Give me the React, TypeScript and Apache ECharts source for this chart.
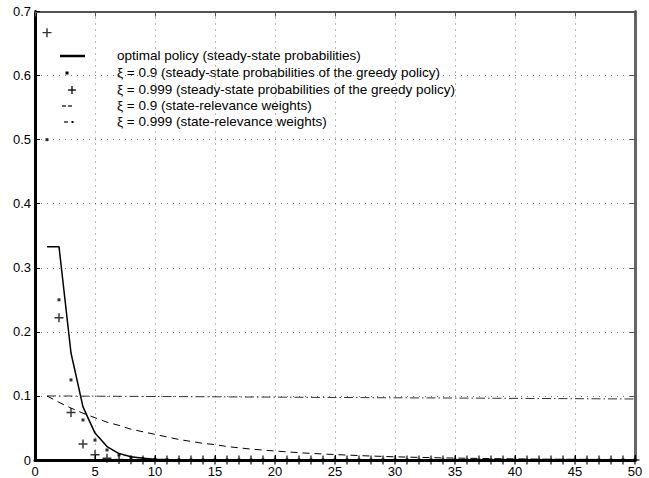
import React, { useEffect, useRef } from "react";
import * as echarts from "echarts";

const states = [
  1, 2, 3, 4, 5, 6, 7, 8, 9, 10, 11, 12, 13, 14, 15, 16, 17, 18, 19, 20, 21, 22, 23, 24, 25,
  26, 27, 28, 29, 30, 31, 32, 33, 34, 35, 36, 37, 38, 39, 40, 41, 42, 43, 44, 45, 46, 47, 48, 49, 50,
];

const optimalPolicy = [
  0.333, 0.333, 0.167, 0.083, 0.042, 0.021, 0.010, 0.005, 0.0026, 0.0013, 0.0007, 0.0003, 0.0002, 0.0001, 0,
  0, 0, 0, 0, 0, 0, 0, 0, 0, 0, 0, 0, 0, 0, 0, 0, 0, 0, 0, 0, 0, 0, 0, 0, 0, 0, 0, 0, 0, 0, 0, 0, 0, 0, 0,
];

const greedy09 = [
  0.5, 0.25, 0.125, 0.0625, 0.031, 0.0156, 0.0078, 0.0039, 0.002, 0.001, 0.0005, 0.0002, 0.0001, 0, 0,
  0, 0, 0, 0, 0, 0, 0, 0, 0, 0, 0, 0, 0, 0, 0, 0, 0, 0, 0, 0, 0, 0, 0, 0, 0, 0, 0, 0, 0, 0, 0, 0, 0, 0, 0,
];

const greedy0999 = [
  0.667, 0.222, 0.074, 0.025, 0.0082, 0.0027, 0.0009, 0.0003, 0.0001, 0, 0, 0, 0, 0, 0,
  0, 0, 0, 0, 0, 0, 0, 0, 0, 0, 0, 0, 0, 0, 0, 0, 0, 0, 0, 0, 0, 0, 0, 0, 0, 0, 0, 0, 0, 0, 0, 0, 0, 0, 0,
];

const weights09 = [
  0.1, 0.09, 0.081, 0.073, 0.066, 0.059, 0.054, 0.048, 0.044, 0.04, 0.036, 0.032, 0.029, 0.026, 0.024,
  0.021, 0.019, 0.017, 0.0155, 0.014, 0.0127, 0.0114, 0.0103, 0.0094, 0.0085, 0.0077, 0.0069, 0.0062,
  0.0056, 0.005, 0.0045, 0.0041, 0.0037, 0.0033, 0.003, 0.0027, 0.0024, 0.0022, 0.002, 0.0018, 0.0016,
  0.0014, 0.0013, 0.0012, 0.0011, 0.001, 0.0009, 0.0008, 0.0007, 0.0006,
];

const weights0999 = [
  0.1, 0.0999, 0.0998, 0.0997, 0.0996, 0.0995, 0.0994, 0.0993, 0.0992, 0.0991, 0.099, 0.0989, 0.0988,
  0.0987, 0.0986, 0.0985, 0.0984, 0.0983, 0.0982, 0.0981, 0.098, 0.0979, 0.0978, 0.0977, 0.0976, 0.0975,
  0.0974, 0.0973, 0.0972, 0.0971, 0.097, 0.0969, 0.0969, 0.0968, 0.0967, 0.0966, 0.0965, 0.0964, 0.0963,
  0.0962, 0.0961, 0.096, 0.0959, 0.0958, 0.0957, 0.0956, 0.0955, 0.0954, 0.0953, 0.0952,
];

const legendLabels = [
  "optimal policy (steady-state probabilities)",
  "\u03be = 0.9 (steady-state probabilities of the greedy policy)",
  "\u03be = 0.999 (steady-state probabilities of the greedy policy)",
  "\u03be = 0.9 (state-relevance weights)",
  "\u03be = 0.999 (state-relevance weights)",
];

const FONT = "'Liberation Sans', Arial, Helvetica, sans-serif";
const PLUS = "path://M4.2,0H5.8V4.2H10V5.8H5.8V10H4.2V5.8H0V4.2H4.2Z";

export default function App() {
  const ref = useRef<HTMLDivElement>(null);
  useEffect(() => {
    const chart = echarts.init(ref.current!, null, { renderer: "svg" });
    const pair = (ys: number[]) => states.map((x, i) => [x, ys[i]]);
    const rowY = [56, 73, 90, 106, 122];
    const legendGraphics: any[] = [];
    legendLabels.forEach((t, i) => {
      legendGraphics.push({
        type: "text",
        left: 117,
        top: rowY[i] - 8,
        style: { text: t, fill: "#000", font: `13.5px ${FONT}` },
      });
    });
    legendGraphics.push(
      { type: "line", shape: { x1: 60, y1: rowY[0], x2: 85, y2: rowY[0] }, style: { stroke: "#000", lineWidth: 2.5 } },
      { type: "rect", shape: { x: 65.5, y: rowY[1] - 1.5, width: 3, height: 3 }, style: { fill: "#000" } },
      { type: "line", shape: { x1: 68, y1: rowY[2], x2: 76, y2: rowY[2] }, style: { stroke: "#000", lineWidth: 1.3 } },
      { type: "line", shape: { x1: 72, y1: rowY[2] - 4, x2: 72, y2: rowY[2] + 4 }, style: { stroke: "#000", lineWidth: 1.3 } },
      { type: "line", shape: { x1: 62, y1: rowY[3], x2: 66, y2: rowY[3] }, style: { stroke: "#000", lineWidth: 1.2 } },
      { type: "line", shape: { x1: 68, y1: rowY[3], x2: 72, y2: rowY[3] }, style: { stroke: "#000", lineWidth: 1.2 } },
      { type: "line", shape: { x1: 64, y1: rowY[4], x2: 68, y2: rowY[4] }, style: { stroke: "#000", lineWidth: 1.2 } },
      { type: "rect", shape: { x: 71.5, y: rowY[4] - 1, width: 2, height: 2 }, style: { fill: "#000" } }
    );

    const grid = { left: 35, right: 14, top: 11.5, bottom: 17.5 };
    const split = { show: true, lineStyle: { color: "#777", width: 1, type: [1, 5] } };
    chart.setOption({
      animation: false,
      backgroundColor: "#fff",
      grid: { ...grid, containLabel: false },
      xAxis: [
        {
          type: "value",
          min: 0,
          max: 50,
          interval: 5,
          position: "bottom",
          axisLine: { show: true, onZero: false, lineStyle: { color: "#000", width: 3 } },
          axisTick: { show: true, inside: true, length: 5, lineStyle: { color: "#000" } },
          axisLabel: { color: "#000", fontSize: 13, fontFamily: FONT, margin: 5 },
          splitLine: split,
        },
        {
          type: "value",
          min: 0,
          max: 50,
          interval: 5,
          position: "top",
          axisLine: { show: true, onZero: false, lineStyle: { color: "#555", width: 2 } },
          axisTick: { show: true, inside: true, length: 5, lineStyle: { color: "#555" } },
          axisLabel: { show: false },
          splitLine: { show: false },
        },
      ],
      yAxis: [
        {
          type: "value",
          min: 0,
          max: 0.7,
          interval: 0.1,
          position: "left",
          axisLine: { show: true, onZero: false, lineStyle: { color: "#000", width: 3 } },
          axisTick: { show: true, inside: true, length: 5, lineStyle: { color: "#000" } },
          axisLabel: { color: "#000", fontSize: 13, fontFamily: FONT, margin: 4 },
          splitLine: split,
        },
        {
          type: "value",
          min: 0,
          max: 0.7,
          interval: 0.1,
          position: "right",
          axisLine: { show: true, onZero: false, lineStyle: { color: "#666", width: 3 } },
          axisTick: { show: true, inside: true, length: 5, lineStyle: { color: "#555" } },
          axisLabel: { show: false },
          splitLine: { show: false },
        },
      ],
      series: [
        {
          name: "weights0999",
          type: "line",
          data: pair(weights0999),
          showSymbol: false,
          symbol: "none",
          lineStyle: { color: "#333", width: 1, type: [9, 3, 1.5, 3] },
          z: 2,
        },
        {
          name: "weights09",
          type: "line",
          data: pair(weights09),
          showSymbol: false,
          symbol: "none",
          lineStyle: { color: "#000", width: 1, type: [7, 5] },
          z: 2,
        },
        {
          name: "optimal",
          type: "line",
          data: pair(optimalPolicy),
          showSymbol: false,
          symbol: "none",
          lineStyle: { color: "#000", width: 1.5 },
          z: 3,
        },
        {
          name: "greedy09",
          type: "scatter",
          data: pair(greedy09),
          symbol: "rect",
          symbolSize: 3,
          clip: false,
          itemStyle: { color: "#000" },
          z: 4,
        },
        {
          name: "greedy0999",
          type: "scatter",
          data: pair(greedy0999),
          symbol: PLUS,
          symbolSize: 9,
          clip: false,
          itemStyle: { color: "#000" },
          z: 4,
        },
      ],
      graphic: legendGraphics,
    });
    return () => chart.dispose();
  }, []);
  return (
    <div
      ref={ref}
      style={{ position: "fixed", left: 0, top: 0, width: 649, height: 478, background: "#fff" }}
    />
  );
}
